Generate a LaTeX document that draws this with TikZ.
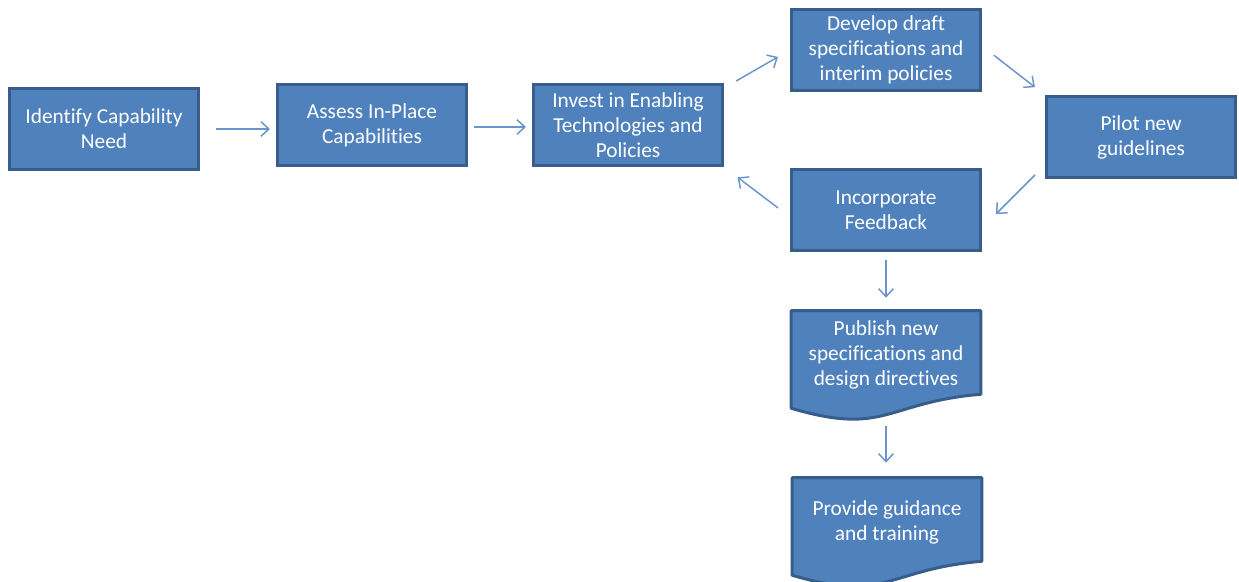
\documentclass[tikz,border=0pt]{standalone}
\usepackage{fontspec}
\setmainfont{Carlito}[Ligatures=NoCommon]
\usetikzlibrary{arrows.meta,backgrounds}
\definecolor{boxfill}{HTML}{4F81BD}
\definecolor{boxline}{HTML}{385D8A}
\definecolor{arrline}{HTML}{6A95CC}
\tikzset{
  box/.style={draw=boxline,fill=boxfill,line width=2.25pt,text=white,align=center,
    minimum width=141.75pt,minimum height=60.75pt,inner sep=0pt,
    font=\fontsize{16}{18.75}\selectfont},
  doc/.style={text=white,align=center,minimum width=141.75pt,minimum height=66pt,inner sep=0pt,
    font=\fontsize{16}{18.75}\selectfont},
  docpath/.style={draw=boxline,fill=boxfill,line width=2.25pt,line join=round},
  arr/.style={draw=arrline,line width=1.1pt,-{Straight Barb[length=6pt,width=11pt]}}
}
\begin{document}
\begin{tikzpicture}[x=0.75pt,y=-0.75pt]
  \useasboundingbox (0,0) rectangle (1239,582);
  \node[box] (idn) at (104,129) {Identify Capability\\Need};
  \node[box] (asp) at (372,125) {Assess In-Place\\Capabilities};
  \node[box] (inv) at (628,125) {Invest in Enabling\\Technologies and\\Policies};
  \node[box] (dev) at (886,50) {Develop draft\\specifications and\\interim policies};
  \node[box] (pil) at (1141,137) {Pilot new\\guidelines};
  \node[box] (inc) at (886,210) {Incorporate\\Feedback};
  \node[doc] (pub) at (886,355) {Publish new\\specifications and\\design directives};
  \node[doc] (prv) at (887,522) {Provide guidance\\and training};
  % document shapes behind the text
  \begin{scope}[on background layer]
    \foreach \n in {pub,prv}
      \path[docpath] (\n.north west) -- (\n.north east) -- ([yshift=3.75pt]\n.south east)
        .. controls ([yshift=-2.25pt]\n.south) and ([yshift=-27.75pt]\n.south) .. ([yshift=-6.75pt]\n.south west) -- cycle;
  \end{scope}
  \draw[arr,shorten <=12pt,shorten >=4.5pt] (idn.east) -- (idn.east -| asp.west);
  \draw[arr,shorten <=4.5pt,shorten >=4.5pt] ([yshift=-1.5pt]asp.east) -- ([yshift=-1.5pt]inv.west);
  \draw[arr,shorten <=10.5pt,shorten >=10.4pt] ([yshift=27.75pt]inv.east) -- (dev.west);
  \draw[arr,shorten <=11.25pt,shorten >=9.6pt] ([yshift=3pt]dev.east) -- (pil.north west);
  \draw[arr,shorten <=10.6pt,shorten >=14.8pt] ([yshift=-21pt]pil.west) -- ([yshift=-13.5pt]inc.east);
  \draw[arr,shorten <=11.25pt,shorten >=12.8pt] ([yshift=-5.25pt]inc.west) -- (inv.south east);
  \draw[arr,shorten <=6pt,shorten >=9.75pt] (inc.south) -- (pub.north);
  \draw[arr,shorten <=20.25pt,shorten >=11.25pt] (pub.south) -- (pub.south |- prv.north);
\end{tikzpicture}
\end{document}
